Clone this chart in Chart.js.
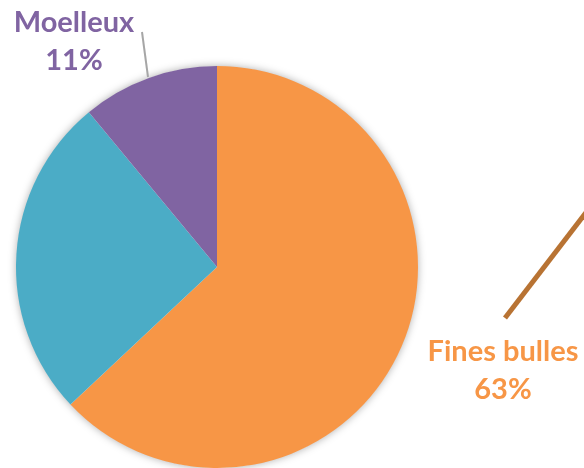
<!DOCTYPE html>
<html>
<head>
<meta charset="utf-8">
<script src="https://cdn.jsdelivr.net/npm/chart.js@4.4.0/dist/chart.umd.min.js"></script>
<style>
  html, body { margin: 0; padding: 0; background: #fff; }
  #wrap { width: 584px; height: 468px; }
</style>
</head>
<body>
<div id="wrap"><canvas id="pieChart" width="584" height="468"></canvas></div>
<script>
// wine types share
const categories = ['Fines bulles', '', 'Moelleux'];
const shares = [63, 26, 11];
const sliceColors = ['#f79646', '#4bacc6', '#8064a2'];

// labels drawn next to the pie (the blue one is outside the picture)
const labelSpots = [
  { idx: 0, x: 503, y: 361 },
  { idx: 2, x: 74, y: 32 }
];

const shadowPlugin = {
  id: 'pieShadow',
  beforeDatasetsDraw(chart) {
    const arc = chart.getDatasetMeta(0).data[0];
    if (!arc) return;
    const c = chart.ctx;
    c.save();
    c.shadowColor = 'rgba(0,0,0,0.35)';
    c.shadowBlur = 9;
    c.beginPath();
    c.arc(arc.x, arc.y, arc.outerRadius - 0.5, 0, Math.PI * 2);
    c.fillStyle = '#ffffff';
    c.fill();
    c.restore();
  }
};

const labelPlugin = {
  id: 'outLabels',
  afterDatasetsDraw(chart) {
    const c = chart.ctx;
    c.save();
    // leader for Moelleux
    c.strokeStyle = '#a6a6a6';
    c.lineWidth = 2;
    c.beginPath();
    c.moveTo(148, 77);
    c.lineTo(142, 32);
    c.stroke();
    // brown leader going off to the right
    c.strokeStyle = '#b87333';
    c.lineWidth = 5;
    c.beginPath();
    c.moveTo(505, 318);
    c.lineTo(588, 210);
    c.stroke();

    c.font = 'bold 29px Lato, "Open Sans", sans-serif';
    c.textAlign = 'center';
    c.textBaseline = 'alphabetic';
    labelSpots.forEach(s => {
      c.fillStyle = sliceColors[s.idx];
      c.fillText(categories[s.idx], s.x, s.y);
      c.fillText(shares[s.idx] + '%', s.x, s.y + 38);
    });
    c.restore();
  }
};

const ctx = document.getElementById('pieChart').getContext('2d');
const pieChart = new Chart(ctx, {
  type: 'pie',
  data: {
    labels: categories,
    datasets: [{
      data: shares,
      backgroundColor: sliceColors,
      borderWidth: 0
    }]
  },
  options: {
    responsive: false,
    animation: false,
    layout: { padding: { left: 15, right: 165, top: 66, bottom: 0 } },
    plugins: {
      legend: { display: false },
      tooltip: { enabled: false },
      title: { display: false }
    }
  },
  plugins: [shadowPlugin, labelPlugin]
});
</script>
</body>
</html>
